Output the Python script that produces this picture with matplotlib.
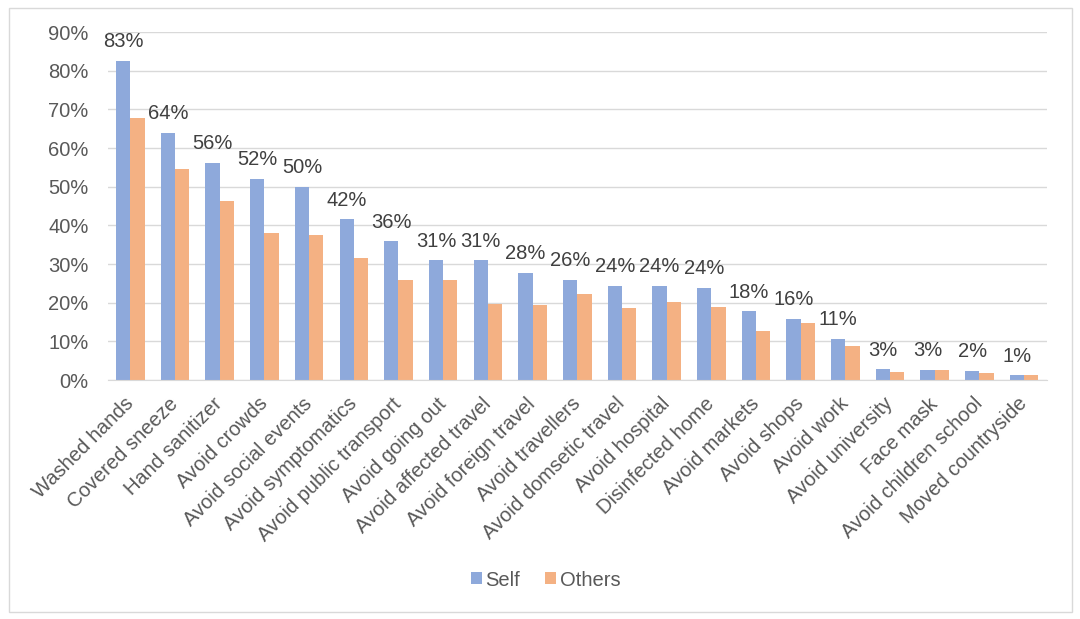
import numpy as np
import matplotlib.pyplot as plt
from matplotlib.patches import Rectangle

plt.rcParams['font.family'] = ['Liberation Sans', 'DejaVu Sans']

# data
categories = ['Washed hands', 'Covered sneeze', 'Hand sanitizer', 'Avoid crowds',
              'Avoid social events', 'Avoid symptomatics', 'Avoid public transport',
              'Avoid going out', 'Avoid affected travel', 'Avoid foreign travel',
              'Avoid travellers', 'Avoid domsetic travel', 'Avoid hospital',
              'Disinfected home', 'Avoid markets', 'Avoid shops', 'Avoid work',
              'Avoid university', 'Face mask', 'Avoid children school',
              'Moved countryside']
self_vals = [82.5, 63.9, 56.1, 52.0, 49.9, 41.6, 35.9, 31.0, 31.0, 27.7, 25.9,
             24.4, 24.4, 23.8, 17.8, 15.8, 10.6, 2.8, 2.6, 2.3, 1.2]
others_vals = [67.8, 54.5, 46.3, 38.0, 37.5, 31.7, 26.0, 25.9, 19.7, 19.4, 22.2,
               18.7, 20.3, 18.9, 12.6, 14.7, 8.8, 2.1, 2.5, 1.9, 1.2]
self_labels = ['83%', '64%', '56%', '52%', '50%', '42%', '36%', '31%', '31%', '28%',
               '26%', '24%', '24%', '24%', '18%', '16%', '11%', '3%', '3%', '2%', '1%']
yticks = np.arange(0, 91, 10)

blue = '#8EA9DB'
orange = '#F4B183'
grey_txt = '#595959'
fs = 14.5

fig = plt.figure(figsize=(10.8, 6.19), dpi=100)
ax = fig.add_axes([0.100, 0.386, 0.869, 0.562])

x = np.arange(len(categories))
w = 0.32
ax.bar(x - w/2, self_vals, w, color=blue, label='Self', zorder=2)
ax.bar(x + w/2, others_vals, w, color=orange, label='Others', zorder=2)

for xi, v, lab in zip(x, self_vals, self_labels):
    ax.annotate(lab, (xi - w/2, v), xytext=(0, 7), textcoords='offset points',
                ha='center', va='bottom', fontsize=fs, color='#404040')

ax.set_xlim(-0.5, len(categories) - 0.5)
ax.set_ylim(0, 90)
ax.set_yticks(yticks)
ax.set_yticklabels([f'{t}%' for t in yticks], fontsize=fs, color=grey_txt)
ax.set_xticks(x)
ax.set_xticklabels(categories, rotation=45, ha='right', va='center',
                   rotation_mode='anchor', fontsize=fs, color=grey_txt)
ax.tick_params(axis='x', length=0, pad=15)
ax.tick_params(axis='y', length=0, pad=14)
ax.grid(axis='y', color='#D9D9D9', linewidth=1, zorder=0)
for s in ['top', 'right', 'left']:
    ax.spines[s].set_visible(False)
ax.spines['bottom'].set_color('#D9D9D9')

fig.legend(*ax.get_legend_handles_labels(), loc='center',
           bbox_to_anchor=(0.505, 1 - 580/619), ncol=2, frameon=False, fontsize=fs,
           handlelength=0.55, handleheight=0.55, handletextpad=0.2,
           columnspacing=1.2, labelcolor=grey_txt)

# outer chart border
fig.patches.append(Rectangle((0.008, 0.012), 0.985, 0.975, transform=fig.transFigure,
                             fill=False, edgecolor='#D9D9D9', linewidth=1))

fig.savefig('out.png', dpi=100)
